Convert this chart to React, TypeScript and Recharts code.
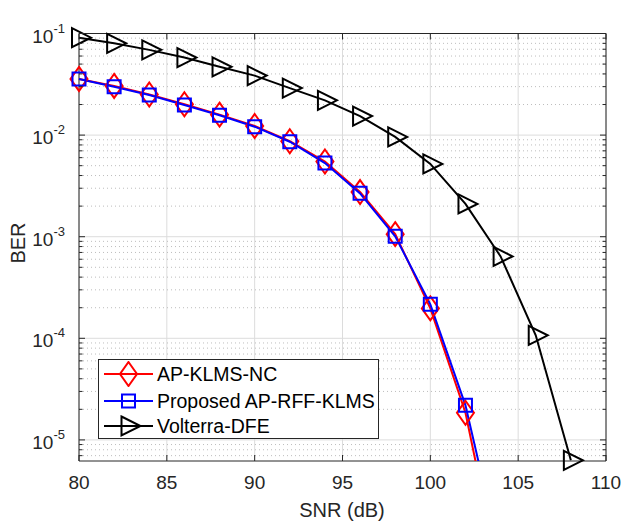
import React from 'react';
import {
  LineChart, Line, XAxis, YAxis, CartesianGrid, ReferenceArea,
} from 'recharts';

// SNR values (dB) on the x axis
const SNR = [80, 82, 84, 86, 88, 90, 92, 94, 96, 98, 100, 102, 104, 106, 108];

// BER per SNR
const apKlmsNc = [0.0357, 0.0305, 0.0251, 0.0201, 0.0159, 0.0123, 0.0087, 0.0055, 0.00275, 0.00106, 0.000197, 0.0000185, 0.0000004];
const proposedApRffKlms = [0.0356, 0.0299, 0.0248, 0.0198, 0.0157, 0.0121, 0.0086, 0.0053, 0.00267, 0.00101, 0.000216, 0.0000219, 0.0000007];
const volterraDfe = [0.091, 0.080, 0.069, 0.058, 0.047, 0.0385, 0.029, 0.022, 0.0154, 0.0096, 0.0052, 0.0021, 0.00064, 0.000107, 0.0000063];

const X_TICKS = [80, 85, 90, 95, 100, 105, 110];
const Y_MAJOR = [1e-5, 1e-4, 1e-3, 1e-2, 1e-1];
const Y_MINOR = [
  7e-6, 8e-6, 9e-6,
  2e-5, 3e-5, 4e-5, 5e-5, 6e-5, 7e-5, 8e-5, 9e-5,
  2e-4, 3e-4, 4e-4, 5e-4, 6e-4, 7e-4, 8e-4, 9e-4,
  2e-3, 3e-3, 4e-3, 5e-3, 6e-3, 7e-3, 8e-3, 9e-3,
  2e-2, 3e-2, 4e-2, 5e-2, 6e-2, 7e-2, 8e-2, 9e-2,
];
const Y_MIN = 6.2e-6;
const Y_MAX = 0.1;

const W = 623;
const H = 527;
const PL = 79;
const PR = 606;
const PT = 33.5;
const PB = 461;
const Y_AXIS_W = 60;
const X_AXIS_H = 40;

const FONT = '"Liberation Sans", Arial, Helvetica, sans-serif';
const INK = '#262626';

const data = SNR.map((snr, i) => ({
  snr,
  nc: apKlmsNc[i],
  rff: proposedApRffKlms[i],
  vdfe: volterraDfe[i],
}));

const allYTicks = [...Y_MAJOR, ...Y_MINOR].sort((a, b) => a - b);

function diamondPath(cx: number, cy: number) {
  return `M${cx},${cy - 12} L${cx + 8.5},${cy} L${cx},${cy + 12} L${cx - 8.5},${cy} Z`;
}
function squarePath(cx: number, cy: number) {
  return `M${cx - 6.5},${cy - 6.5} L${cx + 6.5},${cy - 6.5} L${cx + 6.5},${cy + 6.5} L${cx - 6.5},${cy + 6.5} Z`;
}
function trianglePath(cx: number, cy: number) {
  return `M${cx - 7},${cy - 9.5} L${cx + 12},${cy} L${cx - 7},${cy + 9.5} Z`;
}

const makeDot = (shape: (cx: number, cy: number) => string, color: string) => (p: any) => {
  if (p.cx == null || p.cy == null || p.value == null) return <g key={`e${p.index}`} />;
  return <path key={`m${p.index}`} d={shape(p.cx, p.cy)} fill="none" stroke={color} strokeWidth={2} />;
};

const YTick = (props: any) => {
  const { y, payload } = props;
  const v = payload.value;
  const major = Y_MAJOR.some((m) => Math.abs(m - v) / m < 1e-6);
  const len = major ? 6 : 3.5;
  const exp = Math.round(Math.log10(v));
  return (
    <g>
      <line x1={PL} x2={PL + len} y1={y} y2={y} stroke={INK} strokeWidth={1} />
      <line x1={PR} x2={PR - len} y1={y} y2={y} stroke={INK} strokeWidth={1} />
      {major && (
        <text x={65} y={y + 9} textAnchor="end" fill={INK} fontSize={19} fontFamily={FONT}>
          10<tspan dy={-10} fontSize={13}>{exp}</tspan>
        </text>
      )}
    </g>
  );
};

const XTick = (props: any) => {
  const { x, payload } = props;
  return (
    <g>
      <line x1={x} x2={x} y1={PB} y2={PB - 6} stroke={INK} strokeWidth={1} />
      <line x1={x} x2={x} y1={PT} y2={PT + 6} stroke={INK} strokeWidth={1} />
      <text x={x} y={488.5} textAnchor="middle" fill={INK} fontSize={19} fontFamily={FONT}>
        {payload.value}
      </text>
    </g>
  );
};

const legendItems = [
  { label: 'AP-KLMS-NC', color: '#ff0000', shape: diamondPath },
  { label: 'Proposed AP-RFF-KLMS', color: '#0000ff', shape: squarePath },
  { label: 'Volterra-DFE', color: '#000000', shape: trianglePath },
];

export default function App() {
  return (
    <div style={{ position: 'absolute', left: 0, top: 0, width: W, height: H, background: '#fff' }}>
      <LineChart
        width={W}
        height={H}
        data={data}
        margin={{ top: PT, right: W - PR, left: PL - Y_AXIS_W, bottom: H - PB - X_AXIS_H }}
      >
        <CartesianGrid horizontalValues={Y_MAJOR} verticalValues={X_TICKS} stroke="#dcdcdc" />
        <CartesianGrid horizontalValues={Y_MINOR} vertical={false} stroke="#bdbdbd" strokeDasharray="1 3" />
        <XAxis
          dataKey="snr"
          type="number"
          domain={[80, 110]}
          ticks={X_TICKS}
          interval={0}
          height={X_AXIS_H}
          axisLine={false}
          tickLine={false}
          tick={<XTick />}
        />
        <YAxis
          type="number"
          scale="log"
          domain={[Y_MIN, Y_MAX]}
          ticks={allYTicks}
          interval={0}
          width={Y_AXIS_W}
          allowDataOverflow
          axisLine={false}
          tickLine={false}
          tick={<YTick />}
          label={{
            content: () => (
              <text
                x={25}
                y={243}
                transform="rotate(-90 25 243)"
                textAnchor="middle"
                fill={INK}
                fontSize={20}
                fontFamily={FONT}
              >
                BER
              </text>
            ),
          }}
        />
        <YAxis yAxisId="v" hide type="number" scale="log" domain={[Y_MIN, Y_MAX]} />
        <ReferenceArea x1={80} x2={110} y1={Y_MIN} y2={Y_MAX} fill="none" stroke={INK} strokeWidth={1} />
        <Line
          dataKey="nc"
          stroke="#ff0000"
          strokeWidth={2}
          type="linear"
          dot={makeDot(diamondPath, '#ff0000')}
          activeDot={false}
          isAnimationActive={false}
        />
        <Line
          dataKey="rff"
          stroke="#0000ff"
          strokeWidth={2}
          type="linear"
          dot={makeDot(squarePath, '#0000ff')}
          activeDot={false}
          isAnimationActive={false}
        />
        <Line
          yAxisId="v"
          dataKey="vdfe"
          stroke="#000000"
          strokeWidth={2}
          type="linear"
          dot={makeDot(trianglePath, '#000000')}
          activeDot={false}
          isAnimationActive={false}
        />
      </LineChart>
      <svg
        width={W}
        height={40}
        style={{ position: 'absolute', left: 0, top: 490, pointerEvents: 'none' }}
      >
        <text x={342} y={27} textAnchor="middle" fill={INK} fontSize={20} fontFamily={FONT}>
          SNR (dB)
        </text>
      </svg>
      <div
        style={{
          position: 'absolute',
          left: 98,
          top: 359,
          width: 279,
          height: 78,
          border: `1px solid ${INK}`,
          background: '#fff',
        }}
      >
        {legendItems.map((it, i) => (
          <div
            key={it.label}
            style={{ position: 'absolute', left: 0, top: [1, 28, 53][i], height: 26, display: 'flex', alignItems: 'center' }}
          >
            <svg width={58} height={26} style={{ display: 'block' }}>
              <line x1={5} x2={54} y1={13} y2={13} stroke={it.color} strokeWidth={2} />
              <path d={it.shape(29.5, 13)} fill="none" stroke={it.color} strokeWidth={2} />
            </svg>
            <span style={{ fontFamily: FONT, fontSize: 19.5, color: '#000', whiteSpace: 'nowrap' }}>{it.label}</span>
          </div>
        ))}
      </div>
    </div>
  );
}
